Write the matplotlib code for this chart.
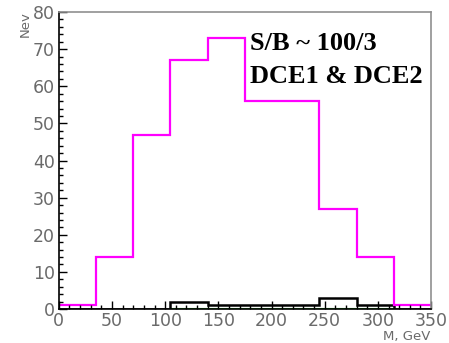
import matplotlib
matplotlib.use("Agg")
import matplotlib.pyplot as plt
from matplotlib.ticker import MultipleLocator

# bin edges in GeV
EDGES = [0, 35, 70, 105, 140, 175, 210, 245, 280, 315, 350]
SIGNAL = [1, 14, 47, 67, 73, 56, 56, 27, 14, 1]
BACKGROUND = [0, 0, 0, 2, 1, 1, 1, 3, 1, 0]
GREEN_EDGES = [105, 140, 175, 210, 245, 280, 315]
GREEN = [0, 0, 0, 0, 0, 0]

LABEL_LINES = ["S/B ~ 100/3", "DCE1 & DCE2"]

tick_color = "#6a6a6a"
plt.rcParams["font.family"] = ["DejaVu Sans"]

fig = plt.figure(figsize=(4.49, 3.43), dpi=100)
ax = fig.add_axes([0.131, 0.099, 0.829, 0.866])

ax.stairs(GREEN, GREEN_EDGES, color="#22aa22", linewidth=1.5, baseline=None)
ax.stairs(BACKGROUND, EDGES, color="black", linewidth=1.8, baseline=None)
ax.stairs(SIGNAL, EDGES, color="#ff00ff", linewidth=1.6, baseline=None)

ax.set_xlim(0, 350)
ax.set_ylim(0, 80)
ax.xaxis.set_major_locator(MultipleLocator(50))
ax.xaxis.set_minor_locator(MultipleLocator(10))
ax.yaxis.set_major_locator(MultipleLocator(10))
ax.yaxis.set_minor_locator(MultipleLocator(2))

ax.tick_params(which="both", direction="in", top=False, right=False,
               color="black", labelcolor=tick_color, labelsize=12.5)
ax.tick_params(which="major", length=6, width=1)
ax.tick_params(which="minor", length=3, width=1)
ax.tick_params(axis="x", pad=2)
ax.tick_params(axis="y", pad=3)

for side in ["top", "right"]:
    ax.spines[side].set_color("#909090")
    ax.spines[side].set_linewidth(1.2)
for side in ["left", "bottom"]:
    ax.spines[side].set_color("black")
    ax.spines[side].set_linewidth(1.2)

for line, ypos in zip(LABEL_LINES, [69.8, 60.9]):
    ax.text(180, ypos, line, fontsize=19, fontweight="bold",
            family="Liberation Serif", va="baseline", ha="left")

fig.text(0.056, 0.968, "Nev", rotation=90, fontsize=9.5, color=tick_color,
         va="top", ha="center")
fig.text(0.958, 0.0, "M, GeV", fontsize=9.5, color=tick_color,
         va="bottom", ha="right")

fig.savefig("out.png", dpi=100)
